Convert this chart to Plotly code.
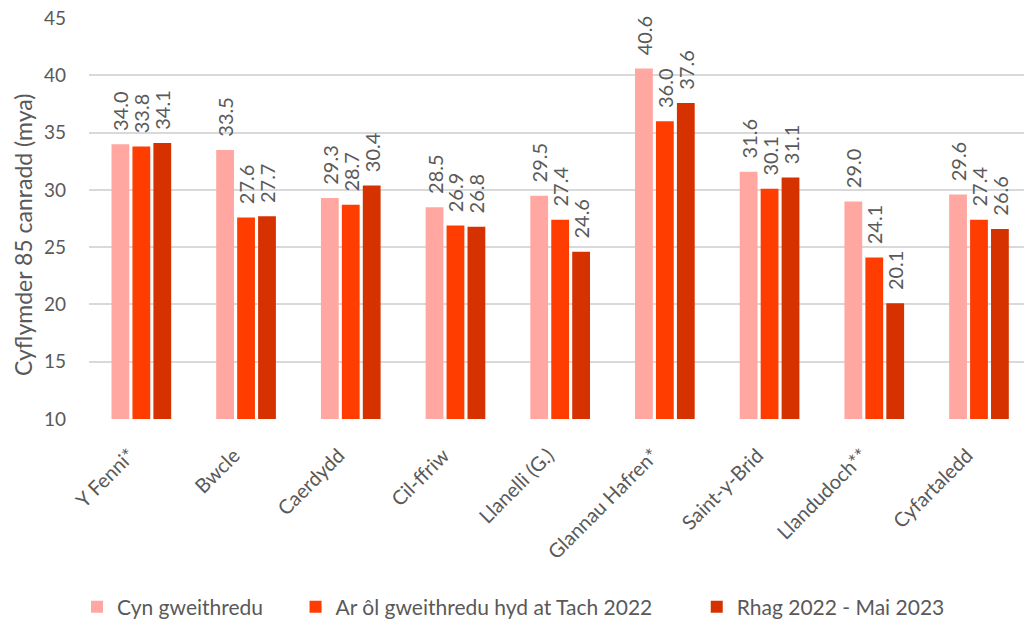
import plotly.graph_objects as go

categories = ["Y Fenni*", "Bwcle", "Caerdydd", "Cil-ffriw", "Llanelli (G.)",
              "Glannau Hafren*", "Saint-y-Brid", "Llandudoch**", "Cyfartaledd"]
series_names = ["Cyn gweithredu", "Ar ôl gweithredu hyd at Tach 2022", "Rhag 2022 - Mai 2023"]
before = [34.0, 33.5, 29.3, 28.5, 29.5, 40.6, 31.6, 29.0, 29.6]
after_nov22 = [33.8, 27.6, 28.7, 26.9, 27.4, 36.0, 30.1, 24.1, 27.4]
dec22_may23 = [34.1, 27.7, 30.4, 26.8, 24.6, 37.6, 31.1, 20.1, 26.6]
y_ticks = [10, 15, 20, 25, 30, 35, 40, 45]
y_title = "Cyflymder 85 canradd (mya)"

colors = ["#FFA7A0", "#FF3D00", "#D63200"]
FONT = "Lato, 'Open Sans', sans-serif"
TXT = "#595959"
legend_ids = ["legend", "legend2", "legend3"]
legend_x = [-0.0128, 0.2209, 0.650]

# the page's body margin is removed (post_script), so the figure fills the window
W, H = 1024, 623
L, T, B, R = 89, 18, 204, 0
plot_w = W - L - R
plot_h = H - T - B

fig = go.Figure()
for name, vals, col, lg in zip(series_names, [before, after_nov22, dec22_may23], colors, legend_ids):
    fig.add_trace(go.Bar(
        x=categories, y=vals, name=name, marker_color=col,
        marker_line_width=0, legend=lg,
        text=["\u00a0\u00a0" + f"{v:.1f}" for v in vals], textposition="outside",
        textangle=-90, cliponaxis=False, constraintext="none",
        textfont=dict(family=FONT, size=20, color=TXT),
    ))

legend_common = dict(orientation="h", y=-0.469, yanchor="middle", xanchor="left",
                     font=dict(family=FONT, size=21, color=TXT),
                     bgcolor="rgba(0,0,0,0)", itemwidth=30)

layout_legends = {}
for lg, lx in zip(legend_ids, legend_x):
    layout_legends[lg] = dict(legend_common, x=lx)

fig.update_layout(
    width=W, height=H,
    margin=dict(l=L, r=R, t=T, b=B, autoexpand=False),
    paper_bgcolor="white", plot_bgcolor="white",
    barmode="group", bargap=0.4, bargroupgap=0.15,
    font=dict(family=FONT, size=18, color=TXT),
    showlegend=True,
    xaxis=dict(range=[-0.5, 8.43], tickangle=-45, showgrid=False, showline=False,
               automargin=False, ticklabelshift=-12, ticklabelstandoff=20,
               tickfont=dict(family=FONT, size=20, color=TXT), ticks=""),
    yaxis=dict(range=[10, 45.02], tickvals=y_ticks, showgrid=True, gridcolor="#D9D9D9",
               gridwidth=1.5, zeroline=False, showline=False, ticks="",
               automargin=False, ticklabelstandoff=22, ticklabeloverflow="allow",
               tickfont=dict(family=FONT, size=19, color=TXT)),
    annotations=[dict(text=y_title, textangle=-90, showarrow=False,
                      xref="paper", yref="paper",
                      x=(23 - L) / plot_w, y=(H - B - 235) / plot_h,
                      xanchor="center", yanchor="middle",
                      font=dict(family=FONT, size=23, color=TXT))],
    **layout_legends,
)

fig.write_html(
    "out.html",
    config={"displayModeBar": False},
    post_script="document.body.style.margin='0';document.body.style.overflow='hidden';",
)
